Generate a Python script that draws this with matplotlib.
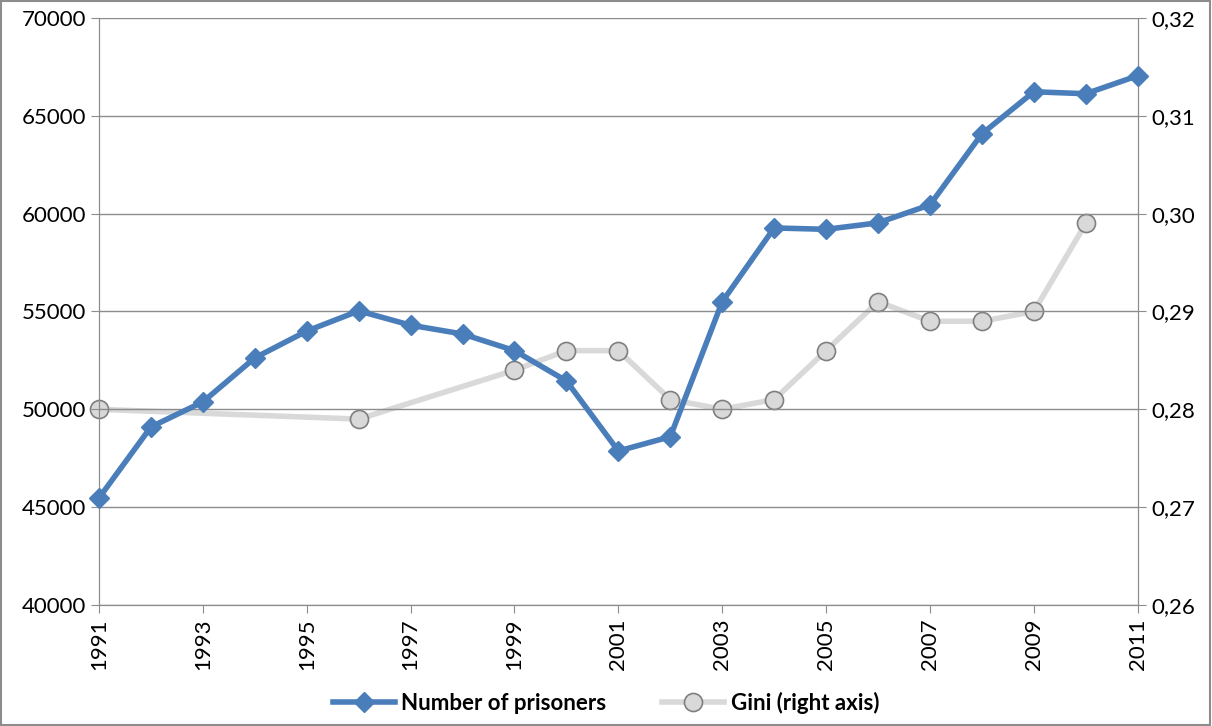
import numpy as np
import matplotlib.pyplot as plt
from matplotlib.patches import Rectangle

plt.rcParams['font.family'] = ['Lato', 'DejaVu Sans']

# 受刑者数 (左軸)
years = list(range(1991, 2012))
prisoners = [45470, 49100, 50380, 52630, 54000, 55030, 54300, 53850, 53000, 51450,
             47870, 48600, 55500, 59270, 59200, 59530, 60450, 64080, 66230, 66130, 67050]

# ジニ係数 (右軸) 欠損年あり
gini_years = [1991, 1996, 1999, 2000, 2001, 2002, 2003, 2004, 2005, 2006, 2007, 2008, 2009, 2010]
gini = [0.280, 0.279, 0.284, 0.286, 0.286, 0.281, 0.280, 0.281, 0.286, 0.291, 0.289, 0.289, 0.290, 0.299]

fig = plt.figure(figsize=(12.12, 7.26), dpi=100)
ax = fig.add_axes([0.0817, 0.1667, 0.857, 0.8085])
ax2 = ax.twinx()

grid_c = '#8c8c8c'
ax.set_xlim(1991, 2011)
ax.set_ylim(40000, 70000)
ax.set_yticks(np.arange(40000, 70001, 5000))
ax.set_xticks(range(1991, 2012, 2))
ax.grid(axis='y', color=grid_c, lw=1)
ax.set_axisbelow(True)
ax.tick_params(axis='x', rotation=90, length=6, color=grid_c, labelsize=16)
ax.tick_params(axis='y', length=6, color=grid_c, labelsize=16)
for s in ['top']:
    ax.spines[s].set_visible(False)
    ax2.spines[s].set_visible(False)
for s in ['left', 'bottom', 'right']:
    ax.spines[s].set_color(grid_c)
    ax2.spines[s].set_color(grid_c)

ax2.set_ylim(0.26, 0.32)
ax2.set_yticks(np.arange(0.26, 0.3201, 0.01))
ax2.set_yticklabels([f'{v:.2f}'.replace('.', ',') for v in np.arange(0.26, 0.3201, 0.01)])
ax2.tick_params(axis='y', length=6, color=grid_c, labelsize=16)

l2, = ax2.plot(gini_years, gini, color='#d9d9d9', lw=4, marker='o', ms=13,
               mfc='#d9d9d9', mec='#7f7f7f', mew=1.2, zorder=2, clip_on=False)
ax2.set_zorder(1)
ax.set_zorder(2)
ax.patch.set_visible(False)
l1, = ax.plot(years, prisoners, color='#4a7ebb', lw=4, marker='D', ms=10,
              mfc='#4a7ebb', mec='#4a7ebb', zorder=3, clip_on=False)

leg = fig.legend([l1, l2], ['Number of prisoners', 'Gini (right axis)'],
                 loc='center', bbox_to_anchor=(0.5, 0.032), ncol=2, frameon=False,
                 prop={'weight': 'bold', 'size': 16}, handlelength=2.8, handletextpad=0.3,
                 columnspacing=2.5)

fig.patches.append(Rectangle((0.001, 0.001), 0.997, 0.997, transform=fig.transFigure,
                             fill=False, edgecolor=grid_c, lw=1.5))

fig.savefig('out.png', dpi=100)
